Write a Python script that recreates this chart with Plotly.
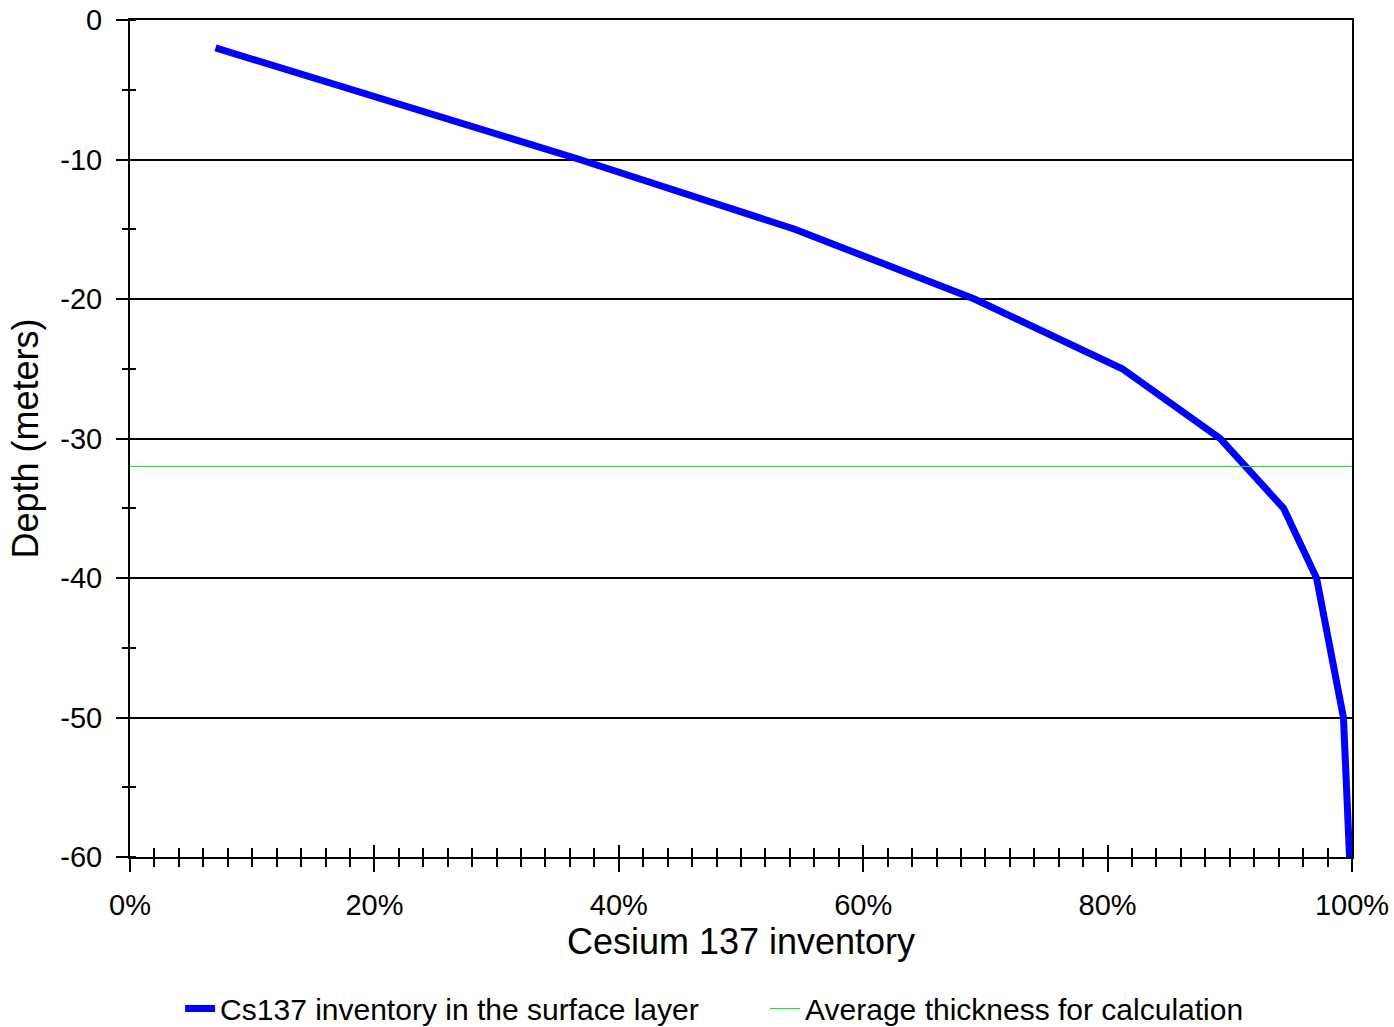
import plotly.graph_objects as go

depth = [-2, -10, -15, -20, -25, -30, -35, -40, -50, -60]
inventory = [0.070, 0.368, 0.544, 0.691, 0.812, 0.892, 0.944, 0.971, 0.993, 0.998]
avg_depth = -32
avg_x = [0, 1]

x_ticks = [0, 0.2, 0.4, 0.6, 0.8, 1.0]
x_labels = ["0%", "20%", "40%", "60%", "80%", "100%"]
y_ticks = [0, -10, -20, -30, -40, -50, -60]
y_labels = ["0", "-10", "-20", "-30", "-40", "-50", "-60"]

FONT = "Liberation Sans, Arial, sans-serif"

fig = go.Figure()
fig.add_trace(go.Scatter(
    x=inventory, y=depth, mode="lines",
    line=dict(color="#0000ff", width=7),
    name="Cs137 inventory in the surface layer",
))
fig.add_trace(go.Scatter(
    x=avg_x, y=[avg_depth, avg_depth], mode="lines",
    line=dict(color="#00ee00", width=1),
    name="Average thickness for calculation",
))
# empty helper trace so the overlay axes (inside tick marks) are rendered
fig.add_trace(go.Scatter(x=[], y=[], xaxis="x2", yaxis="y2", showlegend=False, hoverinfo="skip"))

fig.update_layout(
    width=1394, height=1027,
    margin=dict(l=130, r=42, t=20, b=170, autoexpand=False),
    paper_bgcolor="white", plot_bgcolor="white",
    font=dict(family=FONT, size=29, color="black"),
    showlegend=True,
    legend=dict(orientation="h", x=0.041, xanchor="left", y=-0.150, yanchor="top",
                font=dict(size=30), tracegroupgap=0, entrywidth=540, entrywidthmode="pixels"),
    xaxis=dict(
        range=[0, 1], tickvals=x_ticks, ticktext=x_labels,
        ticks="outside", ticklen=13, tickwidth=2, tickcolor="black",
        minor=dict(dtick=0.02, ticks="outside", ticklen=8, tickwidth=2, tickcolor="black"),
        showgrid=False, zeroline=False, automargin=False,
        showline=True, linecolor="black", linewidth=2, mirror=True,
        ticklabelstandoff=8, ticklabeloverflow="allow",
        title=dict(text="Cesium 137 inventory", font=dict(size=36), standoff=4),
        tickfont=dict(size=29),
    ),
    xaxis2=dict(
        range=[0, 1], overlaying="x", anchor="y", side="bottom",
        tickvals=x_ticks, showticklabels=False, automargin=False,
        ticks="inside", ticklen=12, tickwidth=2, tickcolor="black",
        minor=dict(dtick=0.02, ticks="inside", ticklen=9, tickwidth=2, tickcolor="black"),
        showgrid=False, zeroline=False, showline=False,
    ),
    yaxis=dict(
        range=[-60, 0], tickvals=y_ticks, ticktext=y_labels,
        ticks="outside", ticklen=12, tickwidth=2, tickcolor="black",
        minor=dict(dtick=5, ticks="outside", ticklen=6, tickwidth=2, tickcolor="black", showgrid=False),
        showgrid=True, gridcolor="black", gridwidth=1.5,
        zeroline=False, automargin=False,
        showline=True, linecolor="black", linewidth=2, mirror=True,
        ticklabelstandoff=8, ticklabeloverflow="allow",
        title=dict(text="Depth (meters)", font=dict(size=36), standoff=11),
        tickfont=dict(size=29),
    ),
    yaxis2=dict(
        range=[-60, 0], overlaying="y", anchor="x", side="left",
        tickvals=y_ticks, showticklabels=False, ticks="", automargin=False,
        minor=dict(dtick=5, ticks="inside", ticklen=6, tickwidth=2, tickcolor="black", showgrid=False),
        showgrid=False, zeroline=False, showline=False,
    ),
)

fig.write_html("out.html", config={"displayModeBar": False},
               post_script="document.body.style.margin='0';")
